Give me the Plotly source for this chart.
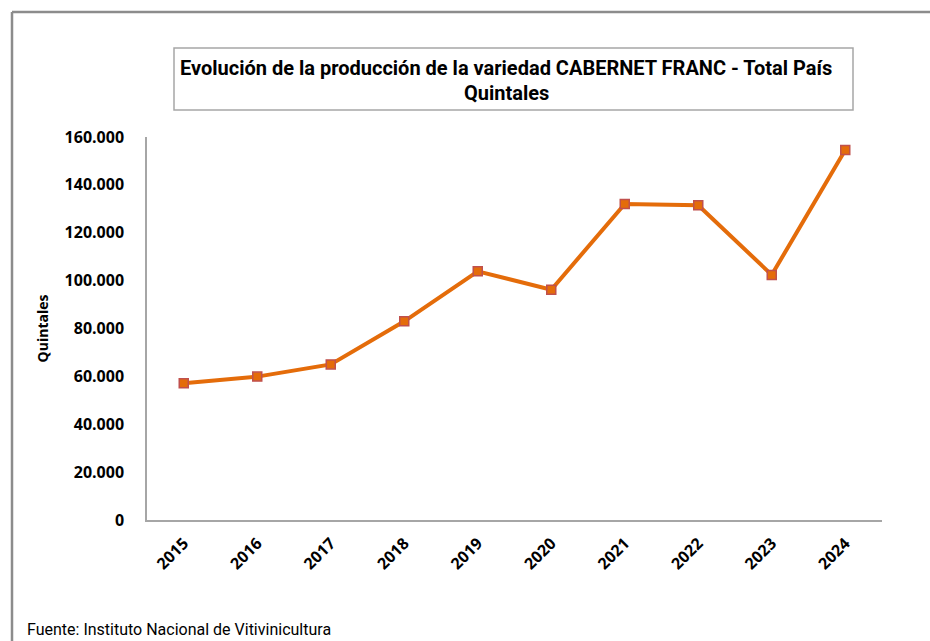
import plotly.graph_objects as go

years = ["2015", "2016", "2017", "2018", "2019", "2020", "2021", "2022", "2023", "2024"]
quintales = [57100, 59900, 65000, 83000, 103900, 96200, 132000, 131500, 102400, 154600]
y_ticks = [0, 20000, 40000, 60000, 80000, 100000, 120000, 140000, 160000]

title_line1 = "Evolución de la producción de la variedad CABERNET FRANC - Total País"
title_line2 = "Quintales"
y_title = "Quintales"
source = "Fuente: Instituto Nacional de Vitivinicultura"

W, H = 930, 641
L, R, T, B = 147, 882, 137, 520  # plot area in pixels


def px(x):
    return (x - L) / (R - L)


def py(y):
    return (B - y) / (B - T)


fig = go.Figure()
fig.add_trace(go.Scatter(
    x=years, y=quintales, mode="lines+markers",
    line=dict(color="#E46C0A", width=4),
    marker=dict(symbol="square", size=9, color="#E46C0A",
                line=dict(color="#C0504D", width=1.5)),
    showlegend=False,
))

fig.update_layout(
    width=W, height=H,
    margin=dict(l=L, r=W - R, t=T, b=H - B),
    paper_bgcolor="white", plot_bgcolor="white",
    separators=",.",
    xaxis=dict(
        type="category", showgrid=False, showline=True, linecolor="#A6A6A6", linewidth=1.5,
        ticks="", tickangle=-45, ticklabelstandoff=6,
        tickfont=dict(family="Open Sans", size=16, color="#000000", weight="bold"),
        range=[-0.5, len(years) - 0.5], zeroline=False,
    ),
    yaxis=dict(
        range=[0, 160000], tickvals=y_ticks, tickformat=",d", showgrid=False,
        showline=True, linecolor="#A6A6A6", linewidth=1.5, ticks="", zeroline=False,
        tickfont=dict(family="Open Sans", size=16, color="#000000", weight="bold"),
        ticklabelstandoff=18,
        title=dict(text=y_title, font=dict(family="Open Sans", size=14, color="#000000", weight="bold"), standoff=13),
    ),
    shapes=[
        dict(type="line", xref="paper", yref="paper", x0=px(12), x1=px(12), y0=py(12), y1=py(641),
             line=dict(color="#8C8C8C", width=2.5)),
        dict(type="line", xref="paper", yref="paper", x0=px(12), x1=px(930), y0=py(12), y1=py(12),
             line=dict(color="#8C8C8C", width=2.5)),
        dict(type="rect", xref="paper", yref="paper", x0=px(174), x1=px(853), y0=py(48), y1=py(110),
             line=dict(color="#A6A6A6", width=1.5), fillcolor="white"),
    ],
    annotations=[
        dict(text="<b>" + title_line1 + "</b>", xref="paper", yref="paper", x=px(506), y=py(68),
             showarrow=False, xanchor="center", yanchor="middle",
             font=dict(family="Roboto", size=20, color="#000000")),
        dict(text="<b>" + title_line2 + "</b>", xref="paper", yref="paper", x=px(506), y=py(93),
             showarrow=False, xanchor="center", yanchor="middle",
             font=dict(family="Roboto", size=20, color="#000000")),
        dict(text=source, xref="paper", yref="paper", x=px(25), y=py(629),
             showarrow=False, xanchor="left", yanchor="middle",
             font=dict(family="Roboto", size=16, color="#000000")),
    ],
)

fig.write_html("out.html", config={"displayModeBar": False},
               post_script="document.body.style.margin='0px';")
